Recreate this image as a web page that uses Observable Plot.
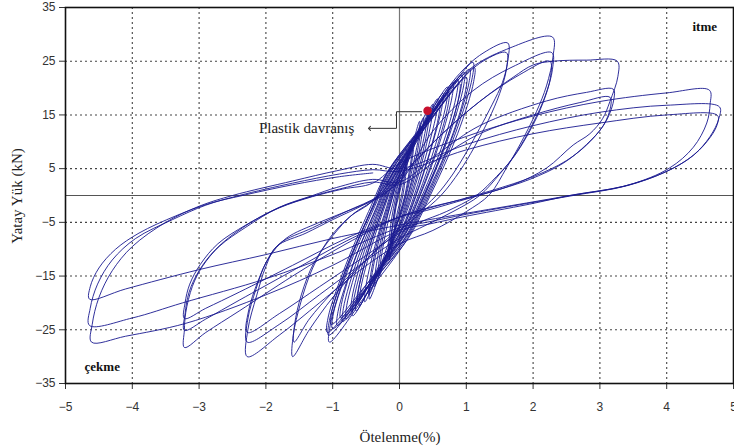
<!DOCTYPE html>
<html><head><meta charset="utf-8">
<script src="https://cdn.jsdelivr.net/npm/d3@7"></script>
<script src="https://cdn.jsdelivr.net/npm/@observablehq/plot@0.6"></script>
<style>body{margin:0;background:#fff}</style>
</head><body><div id="chart"></div>
<script>
// axis ticks
const xTicks = [-5,-4,-3,-2,-1,0,1,2,3,4,5];
const yTicks = [-35,-25,-15,-5,5,15,25,35];
const xGrid = [-4,-3,-2,-1,1,2,3,4];
const yGrid = [-25,-15,-5,5,15,25];

// small cycles (drift %, load kN)
const s1 = [[0.00,0.5],[0.05,3],[0.08,5],[0.08,4.2],[0.05,1.5],[0.03,0],[-0.02,-2.5],[-0.06,-4.8],[-0.08,-6],[-0.08,-5],[-0.05,-2],[-0.02,-0.5]];
const s2 = [[0.00,1],[0.07,4.8],[0.12,8],[0.12,6.8],[0.08,2.5],[0.05,0],[-0.01,-3],[-0.08,-6.5],[-0.12,-9],[-0.12,-7.8],[-0.08,-3.5],[-0.04,-1]];
const s3 = [[0.00,1.5],[0.11,6.5],[0.2,10.6],[0.2,9.2],[0.14,4],[0.08,0],[0.0,-3.5],[-0.09,-8],[-0.15,-12],[-0.15,-10.5],[-0.1,-5],[-0.05,-1]];
const s4 = [[-0.01,1.5],[0.12,6],[0.22,10],[0.21,8.6],[0.15,3.6],[0.09,0],[0.01,-3.5],[-0.1,-7.5],[-0.18,-11.5],[-0.17,-10],[-0.12,-4.5],[-0.06,-0.5]];
const s5 = [[-0.02,2],[0.16,8],[0.3,13.8],[0.3,12],[0.2,5.5],[0.1,0],[0.0,-4],[-0.16,-9.5],[-0.3,-15],[-0.29,-13],[-0.2,-6.5],[-0.1,-1.5]];
const s6 = [[-0.03,2],[0.17,7.6],[0.32,13],[0.31,11.4],[0.22,5],[0.12,0],[0.01,-4],[-0.17,-9],[-0.32,-14.5],[-0.31,-12.6],[-0.22,-6],[-0.12,-1]];
const s19 = [[-0.04,2.3],[0.18,8.8],[0.36,14.5],[0.35,12.6],[0.26,6],[0.13,0],[0.02,-4.5],[-0.19,-10.8],[-0.38,-17],[-0.37,-15],[-0.27,-7.8],[-0.14,-1.8]];
const s7 = [[-0.04,2.5],[0.2,9.5],[0.42,15.8],[0.41,13.8],[0.3,7],[0.15,0],[0.02,-5],[-0.22,-12],[-0.45,-19.3],[-0.44,-17],[-0.32,-9],[-0.16,-2]];
const s8 = [[-0.05,2.5],[0.21,9],[0.44,15],[0.43,13.2],[0.32,6.5],[0.17,0],[0.03,-5],[-0.22,-11.5],[-0.46,-18.5],[-0.45,-16.3],[-0.33,-8.5],[-0.17,-1.8]];
const s20 = [[-0.05,2.8],[0.24,10.2],[0.5,17],[0.49,14.9],[0.37,7.8],[0.19,0],[0.03,-5.5],[-0.26,-12.8],[-0.52,-19.8],[-0.51,-17.4],[-0.37,-9.5],[-0.19,-2]];
const s9 = [[-0.06,3],[0.27,11],[0.57,18],[0.56,15.8],[0.42,8.5],[0.22,0],[0.04,-6],[-0.3,-13.5],[-0.6,-20.5],[-0.59,-18],[-0.43,-10],[-0.22,-2]];
const s10 = [[-0.07,3],[0.28,10.5],[0.6,17],[0.59,15],[0.45,8],[0.24,0],[0.05,-6],[-0.3,-13],[-0.62,-19.8],[-0.61,-17.4],[-0.45,-9.5],[-0.23,-1.8]];
const s21 = [[-0.07,3.2],[0.3,11.8],[0.65,19],[0.64,16.8],[0.48,9],[0.25,0],[0.05,-6.2],[-0.32,-14.2],[-0.65,-21.5],[-0.64,-19],[-0.47,-10.5],[-0.24,-2]];
const s11 = [[-0.08,3.5],[0.33,12.5],[0.72,20.2],[0.71,17.8],[0.54,9.5],[0.28,0],[0.06,-6.5],[-0.34,-15],[-0.7,-22.4],[-0.69,-19.8],[-0.51,-11],[-0.26,-2]];
const s12 = [[-0.09,3.5],[0.34,12],[0.74,19.2],[0.73,17],[0.56,9],[0.3,0],[0.07,-6.5],[-0.35,-14.5],[-0.72,-21.5],[-0.71,-19],[-0.53,-10.5],[-0.27,-1.8]];
const s22 = [[-0.09,3.8],[0.37,13],[0.8,21],[0.79,18.6],[0.6,9.8],[0.31,0],[0.07,-6.8],[-0.4,-15.5],[-0.8,-23],[-0.79,-20.5],[-0.58,-11.2],[-0.29,-2]];
const s13 = [[-0.1,4],[0.4,13.5],[0.87,21.7],[0.86,19.2],[0.66,10],[0.34,0],[0.08,-7],[-0.42,-16],[-0.85,-23.5],[-0.84,-21],[-0.62,-11.5],[-0.31,-2]];
const s14 = [[-0.11,4],[0.41,13],[0.9,20.8],[0.89,18.5],[0.68,9.5],[0.36,0],[0.09,-7],[-0.43,-15.5],[-0.88,-22.8],[-0.87,-20.3],[-0.64,-11],[-0.32,-1.8]];
const s23 = [[-0.11,4.2],[0.43,14],[0.93,22.4],[0.92,20],[0.71,10.6],[0.37,0],[0.09,-7.2],[-0.46,-16.6],[-0.93,-24.2],[-0.92,-21.6],[-0.68,-12.2],[-0.34,-2]];
const s15 = [[-0.12,4.5],[0.44,14.5],[0.97,22.9],[0.96,20.4],[0.74,11],[0.38,0],[0.1,-7.5],[-0.48,-17],[-1.0,-24.8],[-0.99,-22],[-0.73,-12.5],[-0.37,-2]];
const s16 = [[-0.13,4.5],[0.46,14],[1.0,22],[0.99,19.6],[0.77,10.5],[0.4,0],[0.11,-7.5],[-0.49,-16.5],[-1.02,-24],[-1.01,-21.4],[-0.75,-12],[-0.38,-1.8]];
const s24 = [[-0.13,4.8],[0.48,15],[1.05,23.5],[1.04,21],[0.81,11.5],[0.42,0],[0.11,-7.8],[-0.51,-17.8],[-1.06,-26],[-1.05,-23.3],[-0.78,-13],[-0.4,-2]];
const s17 = [[-0.14,5],[0.5,15.5],[1.1,24.8],[1.09,22],[0.85,12],[0.44,0],[0.12,-8],[-0.5,-18.5],[-1.05,-27.3],[-1.04,-24.3],[-0.78,-13.5],[-0.4,-2]];
const s18 = [[-0.15,5],[0.51,15],[1.12,23.8],[1.11,21.2],[0.87,11.5],[0.46,0],[0.13,-8],[-0.52,-17.5],[-1.08,-25.5],[-1.07,-22.8],[-0.8,-12.8],[-0.42,-1.8]];

// large cycles
const L1 = [[-0.2,4],[0.3,12],[0.85,22],[1.25,26.5],[1.62,28.4],[1.62,25],[1.54,21],[1.39,17],[1.2,12.5],[1.0,8],[0.8,4],[0.55,0],[0.25,-3.5],[0,-6],[-0.5,-12],[-1.0,-19],[-1.35,-25],[-1.6,-30],[-1.59,-26],[-1.48,-20],[-1.3,-13.5],[-1.05,-8],[-0.75,-4],[-0.4,-1]];
const L2 = [[0,6],[0.4,13],[0.85,20.5],[1.25,25],[1.6,26.6],[1.6,23.5],[1.5,19],[1.33,14],[1.12,9],[0.9,4.5],[0.62,0],[0.3,-3.5],[0,-6.5],[-0.5,-12],[-1.0,-18],[-1.35,-23],[-1.58,-27.3],[-1.57,-24],[-1.47,-18.5],[-1.28,-12.5],[-1.0,-7.5],[-0.7,-3.5],[-0.35,-0.5]];
const L3 = [[0,5],[0.45,15],[1.05,23.5],[1.6,27.2],[2.29,29.5],[2.3,26],[2.2,20.4],[2.05,15.6],[1.8,9.4],[1.6,5.1],[1.35,0.2],[1.0,-3],[0.5,-6.5],[0,-9],[-0.6,-14],[-1.2,-20],[-1.8,-26],[-2.28,-30],[-2.27,-25],[-2.14,-18.7],[-2.0,-13.2],[-1.84,-9.5],[-1.4,-7],[-1.0,-4.5],[-0.5,-1.5],[-0.1,1.5]];
const L4 = [[0.1,4],[0.5,12],[1.1,19.5],[1.7,24],[2.28,26.6],[2.29,23.5],[2.18,18.5],[2.0,13.5],[1.75,8],[1.5,4],[1.2,0],[0.8,-3],[0.4,-5.5],[0,-8],[-0.6,-13],[-1.2,-18.5],[-1.8,-24],[-2.28,-27.3],[-2.27,-23],[-2.15,-17.5],[-2.0,-12.5],[-1.8,-9],[-1.3,-6],[-0.8,-3],[-0.3,0]];
const L5 = [[0,3.5],[0.6,11],[1.2,17.5],[1.8,22.5],[2.25,25],[2.26,22],[2.14,17],[1.95,12],[1.7,7],[1.45,3.5],[1.15,0],[0.7,-3],[0.3,-5],[0,-7],[-0.6,-12],[-1.2,-17],[-1.8,-22],[-2.28,-25.5],[-2.26,-21.5],[-2.12,-16],[-1.95,-11.5],[-1.7,-8],[-1.2,-5],[-0.7,-2.5],[-0.25,0]];
const L6 = [[0,3],[0.6,11],[1.2,17.5],[1.7,22],[2.0,24.3],[2.3,25],[2.8,25.2],[3.26,25],[3.27,22.2],[3.15,17.5],[3.04,14.3],[2.85,11.5],[2.6,9.4],[2.2,5.1],[1.7,2],[1.05,-0.4],[0.45,-2.2],[0,-4],[-0.8,-9],[-1.6,-15],[-2.4,-21.5],[-2.9,-25.5],[-3.22,-28.3],[-3.22,-25],[-3.2,-21.8],[-3.1,-16.9],[-2.95,-13.2],[-2.7,-9.5],[-2.3,-5.9],[-1.8,-2.2],[-1.3,0],[-0.94,1.5],[-0.4,3]];
const L7 = [[0,2.5],[0.6,8],[1.2,13],[2.2,17.6],[2.8,19.2],[3.2,19.8],[3.21,18],[3.1,14],[2.85,10],[2.5,6.5],[2.0,3.5],[1.4,1],[0.9,-0.8],[0.4,-2.5],[0,-4],[-0.8,-8.5],[-1.6,-14],[-2.4,-19.5],[-2.9,-23],[-3.22,-25.1],[-3.21,-22],[-3.15,-18],[-3.0,-14],[-2.75,-10],[-2.35,-6],[-1.85,-2.5],[-1.35,-0.3],[-0.9,1.2],[-0.4,2.5]];
const L8 = [[0,2],[0.6,7],[1.2,11.5],[2.0,15],[2.7,17.3],[3.15,18.3],[3.16,16.5],[3.05,13],[2.8,9.5],[2.45,6],[1.95,3],[1.35,0.6],[0.85,-1.2],[0.4,-2.8],[0,-4],[-0.8,-8],[-1.6,-13],[-2.4,-18],[-2.9,-21],[-3.22,-22.9],[-3.21,-20],[-3.14,-16.5],[-2.98,-12.8],[-2.72,-9],[-2.3,-5.5],[-1.8,-2.3],[-1.3,-0.2],[-0.85,1.2],[-0.4,2.3]];
const L9 = [[0,6],[1,11],[2,14.8],[3,17.5],[4,19.1],[4.64,19.6],[4.65,17],[4.6,13.5],[4.4,9],[4.04,5.1],[3.44,2],[2.55,0],[1.95,-1.6],[0.94,-4],[0.45,-5.3],[0,-6.5],[-1,-13],[-2,-18.5],[-3.2,-23.8],[-4.1,-26.2],[-4.61,-27.3],[-4.6,-24],[-4.5,-19],[-4.3,-14],[-4.0,-9.5],[-3.5,-5],[-3.0,-2],[-2.5,0],[-1.6,2.7],[-0.94,4.6],[-0.4,5.8]];
const L10 = [[0,5],[1,9.5],[2,13],[3,15.5],[4,16.8],[4.79,16.5],[4.78,14.3],[4.65,11],[4.4,7.5],[4.0,4.5],[3.4,1.8],[2.6,0],[1.9,-1.5],[1.0,-3.5],[0.4,-5],[0,-6],[-1,-11],[-2,-15.5],[-3.25,-20],[-4.0,-22.8],[-4.64,-24.2],[-4.63,-21],[-4.52,-16.5],[-4.3,-12],[-3.95,-8],[-3.4,-4.5],[-2.9,-1.8],[-2.4,0],[-1.6,2.3],[-0.9,4],[-0.4,4.8]];
const L11 = [[0,4.5],[1,8.5],[2,11.5],[3,13.5],[4,15],[4.76,14.9],[4.75,13],[4.6,10],[4.35,7],[3.95,4.2],[3.35,1.7],[2.55,0],[1.9,-1.4],[1.0,-3.3],[0.4,-4.6],[0,-5.5],[-1,-8],[-2,-11],[-3,-13.8],[-4.1,-17.4],[-4.64,-19.3],[-4.63,-17],[-4.5,-13.5],[-4.25,-10],[-3.9,-7],[-3.35,-3.8],[-2.85,-1.5],[-2.35,0],[-1.6,2],[-0.9,3.5],[-0.4,4.2]];

// annotations
const plasticPoint = [[0.42,15.8]];
const arrowPath = [[0.33,15.6],[-0.045,15.6],[-0.045,12.5],[-0.45,12.5]];
const labels = [
  {x:-1.39, y:12.5, text:"Plastik davranış", bold:false},
  {x:4.57, y:31.4, text:"itme", bold:true},
  {x:-4.45, y:-31.9, text:"çekme", bold:true}
];

const cycles = [s1,s2,s3,s4,s5,s6,s19,s7,s8,s20,s9,s10,s21,s11,s12,s22,s13,s14,s23,s15,s16,s24,s17,s18,L1,L2,L3,L4,L5,L6,L7,L8,L9,L10,L11];
const rows = cycles.flat().map(([x,y]) => ({x,y}));

const serif = "Liberation Serif, Times New Roman, serif";
const sans = "Liberation Sans, Arial, sans-serif";

const chart = Plot.plot({
  width: 734, height: 447,
  marginLeft: 65, marginRight: 1, marginTop: 7, marginBottom: 64,
  style: {fontFamily: sans, background: "#fff"},
  x: {domain: [-5,5]},
  y: {domain: [-35,35]},
  marks: [
    Plot.ruleX(xGrid, {stroke: "#444", strokeWidth: 1.1, strokeDasharray: "2,3"}),
    Plot.ruleY(yGrid, {stroke: "#444", strokeWidth: 1.1, strokeDasharray: "2,3"}),
    Plot.ruleX([0], {stroke: "#777", strokeWidth: 1.2}),
    Plot.ruleY([0], {stroke: "#555", strokeWidth: 1.2}),
    Plot.line(rows, {x: "x", y: "y", curve: "catmull-rom", stroke: "#1a1a90", strokeWidth: 1, strokeOpacity: 0.9}),
    Plot.line(arrowPath, {x: d => d[0], y: d => d[1], stroke: "#333", strokeWidth: 1, markerEnd: "arrow"}),
    Plot.dot(plasticPoint, {x: d => d[0], y: d => d[1], r: 3.5, fill: "#c8102e", stroke: "#c8102e"}),
    Plot.text(labels.filter(d => !d.bold), {x: "x", y: "y", text: "text", fontFamily: serif, fontSize: 15, fill: "#222"}),
    Plot.text(labels.filter(d => d.bold), {x: "x", y: "y", text: "text", fontFamily: serif, fontSize: 13, fontWeight: "bold", fill: "#111"}),
    Plot.axisX({ticks: xTicks, tickSize: 6, tickPadding: 13, fontSize: 12, fontFamily: sans, color: "#333", label: null}),
    Plot.axisY({ticks: yTicks, tickSize: 6, tickPadding: 4, fontSize: 12, fontFamily: sans, color: "#333", label: null}),
    Plot.frame({stroke: "#111", strokeWidth: 1.6})
  ]
});

// axis titles as real text
const svg = d3.select(chart);
svg.append("text").attr("x", 400).attr("y", 442).attr("text-anchor", "middle")
  .attr("font-family", serif).attr("font-size", 15).attr("fill", "#222").text("Ötelenme(%)");
svg.append("text").attr("transform", "translate(22,196) rotate(-90)").attr("text-anchor", "middle")
  .attr("font-family", serif).attr("font-size", 15).attr("fill", "#222").text("Yatay Yük (kN)");

document.getElementById("chart").appendChild(chart);
</script>
</body></html>
